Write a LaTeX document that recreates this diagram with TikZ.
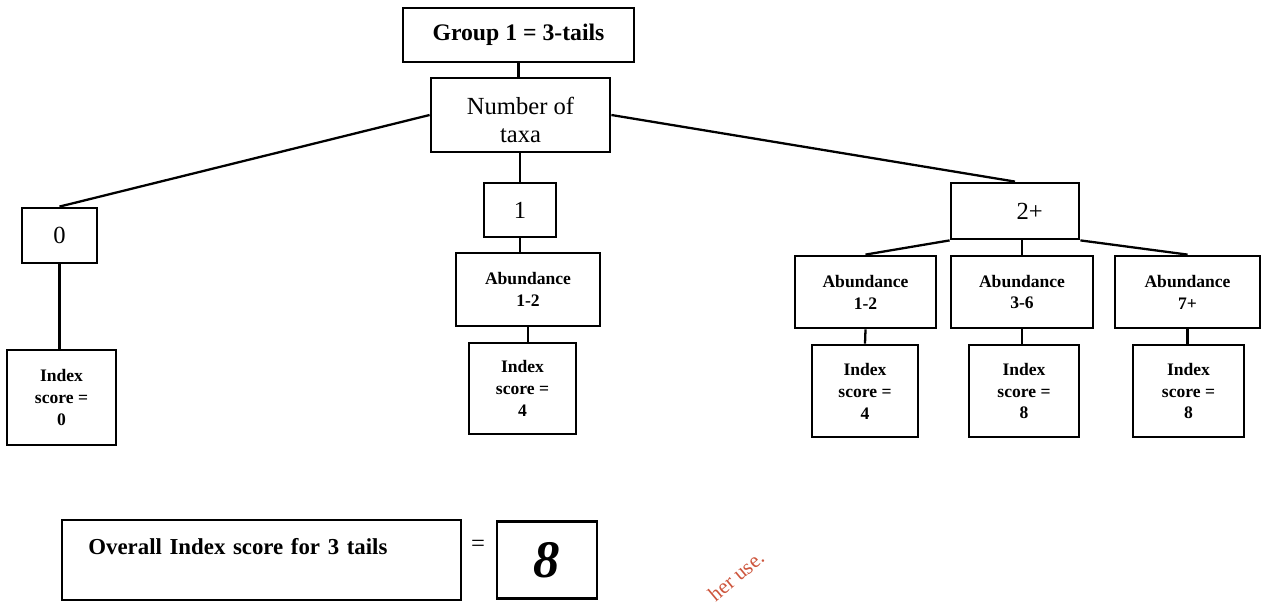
\documentclass[tikz,border=0pt]{standalone}
\usepackage{fontspec}
\setmainfont{Liberation Serif}
\begin{document}
\begin{tikzpicture}[x=0.02cm,y=-0.02cm,
    box/.style={draw,line width=1.6pt,align=center,inner sep=2pt},
    big/.style={font=\fontsize{14}{16}\selectfont},
    small/.style={font=\fontsize{10}{12.5}\selectfont\bfseries},
    link/.style={line width=1.3pt}]
    \useasboundingbox (0,0) rectangle (1270,607);
    \node[box,minimum width=4.62cm,minimum height=1.08cm,font=\fontsize{13.5}{15}\selectfont\bfseries]
        (grp) at (518.5,35) {Group 1 = 3-tails};
    \node[box,big,minimum width=3.58cm,minimum height=1.48cm,text height=31pt,text depth=0pt]
        (num) at (520.5,115) {Number of\\taxa};
    \node[box,big,minimum width=1.5cm,minimum height=1.1cm] (zero) at (59.5,235.5) {0};
    \node[box,big,minimum width=1.44cm,minimum height=1.08cm] (one) at (520,210) {1};
    \node[box,big,minimum width=2.56cm,minimum height=1.12cm] (two) at (1015,211) {\hspace{1.2em}2+};
    \node[box,small,minimum width=2.18cm,minimum height=1.9cm] (idxA) at (61.5,397.5) {Index\\score =\\0};
    \node[box,small,minimum width=2.88cm,minimum height=1.46cm] (abB) at (528,289.5) {Abundance\\1-2};
    \node[box,small,minimum width=2.14cm,minimum height=1.82cm] (idxB) at (522.5,388.5) {Index\\score =\\4};
    \node[box,small,minimum width=2.82cm,minimum height=1.44cm] (abC) at (865.5,292) {Abundance\\1-2};
    \node[box,small,minimum width=2.84cm,minimum height=1.44cm] (abD) at (1022,292) {Abundance\\3-6};
    \node[box,small,minimum width=2.9cm,minimum height=1.44cm] (abE) at (1187.5,292) {Abundance\\7+};
    \node[box,small,minimum width=2.12cm,minimum height=1.84cm] (idxC) at (865,391) {Index\\score =\\4};
    \node[box,small,minimum width=2.2cm,minimum height=1.84cm] (idxD) at (1024,391) {Index\\score =\\8};
    \node[box,small,minimum width=2.22cm,minimum height=1.84cm] (idxE) at (1188.5,391) {Index\\score =\\8};
    \node[box,minimum width=7.98cm,minimum height=1.6cm,inner xsep=15pt,text width=7.98cm-30pt,
        align=left,text height=9pt,text depth=15pt,font=\fontsize{13}{15}\selectfont\bfseries]
        (total) at (261.5,560) {Overall Index score for 3 tails};
    \node[font=\fontsize{14}{16}\selectfont] (eq) at (478,546) {=};
    \node[box,minimum width=2cm,minimum height=1.54cm,font=\fontsize{30}{30}\selectfont\bfseries\itshape]
        (res) at (547,560) {8};
    \node[rotate=40,text={rgb,255:red,205;green,85;blue,60},font=\fontsize{12}{14}\selectfont]
        (mark) at (736,576) {her use.};
    \draw[link] (grp.south |- num.north) -- (grp.south);
    \draw[link] (num.west) -- (zero.north);
    \draw[link] (one.north) -- (one.north |- num.south);
    \draw[link] (num.east) -- (two.north);
    \draw[link] (zero.south) -- (zero.south |- idxA.north);
    \draw[link] (one.south) -- (one.south |- abB.north);
    \draw[link] (abB.south) -- (abB.south |- idxB.north);
    \draw[link] (two.south west) -- (abC.north);
    \draw[link] (abD.north) -- (abD.north |- two.south);
    \draw[link] (two.south east) -- (abE.north);
    \draw[link] (abC.south) -- (idxC.north);
    \draw[link] (abD.south) -- (abD.south |- idxD.north);
    \draw[link] (abE.south) -- (abE.south |- idxE.north);
\end{tikzpicture}
\end{document}
